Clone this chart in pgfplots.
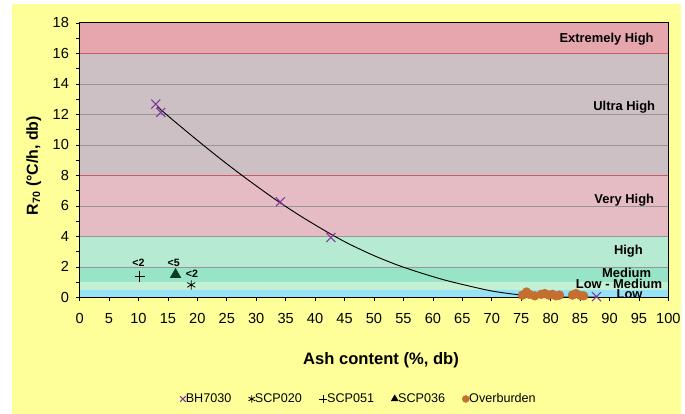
\documentclass[border=0pt]{standalone}
\usepackage{fontspec}
\setmainfont{Liberation Sans}
\usepackage{pgfplots}
\pgfplotsset{compat=1.18}
\definecolor{bgyellow}{RGB}{255,255,153}
\definecolor{extreme}{RGB}{230,166,174}
\definecolor{ultra}{RGB}{204,192,196}
\definecolor{veryhigh}{RGB}{230,188,196}
\definecolor{high}{RGB}{182,234,210}
\definecolor{medium}{RGB}{152,228,200}
\definecolor{lowmed}{RGB}{196,240,212}
\definecolor{low}{RGB}{150,226,246}
\definecolor{bhpurple}{RGB}{128,56,160}
\definecolor{obrown}{RGB}{196,110,48}
\definecolor{trigreen}{RGB}{10,60,36}
\definecolor{bandred}{RGB}{200,90,100}
\definecolor{gridgray}{RGB}{150,150,150}
\begin{document}
\begin{tikzpicture}
\fill[white] (-60pt,-87.75pt) rectangle (453.75pt,224.25pt);
\fill[bgyellow] (-51pt,-87.75pt) rectangle (453.75pt,221.25pt);
\begin{axis}[
  axis on top,
  scale only axis, width=444pt, height=207pt,
  xmin=0, xmax=100, ymin=0, ymax=18,
  xtick={0,5,...,100}, ytick={0,2,...,18}, minor ytick={1,3,...,17},
  tick align=outside, tick pos=left,
  major tick length=3pt, minor tick length=3pt,
  tick style={black, line width=0.5pt},
  axis line style={black, line width=0.6pt},
  ticklabel style={font=\fontsize{11}{13}\selectfont},
  xticklabel style={yshift=-5.5pt},
  yticklabel style={xshift=-1.5pt},
  /pgf/number format/assume math mode=true,
  xlabel={\textbf{Ash content (\%, db)}},
  xlabel style={font=\fontsize{12.5}{14}\selectfont, at={(axis description cs:0.512,-0.23)}, anchor=center},
  ylabel={\textbf{R\textsubscript{70} (°C/h, db)}},
  ylabel style={font=\fontsize{12}{14}\selectfont, at={(axis description cs:-0.078,0.48)}, anchor=center},
  legend columns=5,
  legend style={at={(0.475,-0.37)}, anchor=center, draw=none, fill=none,
    font=\fontsize{9.5}{11}\selectfont,
    /tikz/every even column/.append style={column sep=11pt},
    /tikz/every odd column/.append style={column sep=-2pt}},
  legend image code/.code={\draw plot coordinates {(0.12cm,0cm)};},
]
\addplot[fill=extreme, draw=none, forget plot] coordinates {(0,16) (100,16) (100,18) (0,18) (0,16)};
\addplot[fill=ultra, draw=none, forget plot] coordinates {(0,8) (100,8) (100,16) (0,16) (0,8)};
\addplot[fill=veryhigh, draw=none, forget plot] coordinates {(0,4) (100,4) (100,8) (0,8) (0,4)};
\addplot[fill=high, draw=none, forget plot] coordinates {(0,2) (100,2) (100,4) (0,4) (0,2)};
\addplot[fill=medium, draw=none, forget plot] coordinates {(0,1) (100,1) (100,2) (0,2) (0,1)};
\addplot[fill=lowmed, draw=none, forget plot] coordinates {(0,0.5) (100,0.5) (100,1) (0,1) (0,0.5)};
\addplot[fill=low, draw=none, forget plot] coordinates {(0,0) (100,0) (100,0.5) (0,0.5) (0,0)};
\foreach \g in {2,4,6,10,12,14} {
  \edef\tmp{\noexpand\draw[gridgray, line width=0.5pt] (axis cs:0,\g) -- (axis cs:100,\g);}\tmp
}
\draw[bandred, line width=0.5pt] (axis cs:0,16) -- (axis cs:100,16);
\draw[bandred, line width=0.5pt] (axis cs:0,8) -- (axis cs:100,8);

% band labels
\node[font=\bfseries\fontsize{9.75}{11}\selectfont] at (axis cs:89.5,16.9) {Extremely High};
\node[font=\bfseries\fontsize{9.75}{11}\selectfont] at (axis cs:92.5,12.5) {Ultra High};
\node[font=\bfseries\fontsize{9.75}{11}\selectfont] at (axis cs:92.5,6.35) {Very High};
\node[font=\bfseries\fontsize{9.75}{11}\selectfont] at (axis cs:93.2,3.0) {High};
\node[font=\bfseries\fontsize{9.75}{11}\selectfont] at (axis cs:92.9,1.58) {Medium};
\node[font=\bfseries\fontsize{9.75}{11}\selectfont] at (axis cs:91.6,0.86) {Low - Medium};
\node[font=\bfseries\fontsize{9.75}{11}\selectfont] at (axis cs:93.4,0.22) {Low};

% trend line
\addplot[black, line width=0.7pt, smooth, forget plot] coordinates {
(13.2,12.5) (16,11.58) (20,10.3) (24,9.06) (28,7.88) (32,6.76) (34.4,6.12)
(38,5.22) (42.8,4.12) (46,3.46) (50,2.74) (54,2.12) (58,1.6) (62,1.14)
(66,0.76) (70,0.42) (74,0.2) (78,0.06) (82,0.02) (88,0.02)};

\addplot[only marks, mark=x, mark size=4.8pt, bhpurple, line width=0.8pt,
  legend image post style={mark size=3pt}] coordinates {
(12.95,12.67) (13.8,12.13) (34.07,6.26) (42.68,3.93) (87.8,0.05)};
\addlegendentry{BH7030}

\addplot[only marks, mark=asterisk, mark size=3.5pt, black, line width=0.6pt,
  legend image post style={mark size=2.8pt}] coordinates {(18.97,0.82)};
\addlegendentry{SCP020}

\addplot[only marks, mark=+, mark size=4pt, black, line width=0.7pt,
  legend image post style={mark size=3pt}] coordinates {(10.25,1.37)};
\addlegendentry{SCP051}

\addplot[only marks, mark=triangle*, mark size=4.5pt, trigreen, fill=trigreen,
  legend image post style={mark size=3pt, black, fill=black}] coordinates {(16.3,1.5)};
\addlegendentry{SCP036}

\addplot[only marks, mark=*, mark size=3.3pt, obrown, fill=obrown, draw=obrown,
  legend image post style={mark size=2.6pt}] coordinates {
(75.2,0.15) (75.9,0.35) (76.4,0.2) (77.3,0.1) (78.4,0.2) (79.0,0.25) (79.7,0.15)
(80.3,0.2) (80.9,0.1) (81.5,0.15) (83.7,0.15) (84.3,0.25) (85.1,0.12) (85.6,0.1)};
\addlegendentry{Overburden}

\node[font=\bfseries\fontsize{8}{9}\selectfont] at (axis cs:10.0,2.3) {<2};
\node[font=\bfseries\fontsize{8}{9}\selectfont] at (axis cs:16.0,2.25) {<5};
\node[font=\bfseries\fontsize{8}{9}\selectfont] at (axis cs:19.1,1.58) {<2};
\end{axis}
\end{tikzpicture}
\end{document}
